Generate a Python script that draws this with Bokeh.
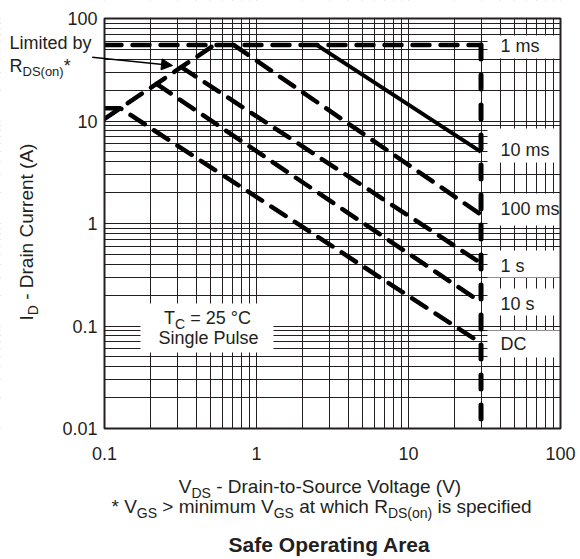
import math
from bokeh.plotting import figure
from bokeh.models import FixedTicker, Label, Arrow, NormalHead
from bokeh.core.properties import value
from bokeh.embed import file_html
from bokeh.resources import INLINE

# ---------------- data ----------------
x_ticks = [0.1, 1.0, 10.0, 100.0]
x_tick_labels = ["0.1", "1", "10", "100"]
y_ticks = [0.01, 0.1, 1.0, 10.0, 100.0]
y_tick_labels = ["0.01", "0.1", "1", "10", "100"]

# R_DS(on) limit line
rds_vds = [0.1, 0.525]
rds_id = [10.5, 55.0]
# package current limit and max VDS
id_limit = 55.0
vds_limit = 30.0

# pulse curves (VDS, ID)
vds_10ms = [2.5, 30.0]
id_10ms = [55.0, 5.0]
vds_100ms = [0.71, 30.0]
id_100ms = [55.0, 1.22]
vds_1s = [0.32, 30.0]
id_1s = [33.6, 0.41]
vds_10s = [0.22, 30.0]
id_10s = [23.0, 0.17]
vds_dc = [0.1, 0.127, 30.0]
id_dc = [13.3, 13.3, 0.068]

curve_labels = ["1 ms", "10 ms", "100 ms", "1 s", "10 s", "DC"]

# ---------------- layout helpers ----------------
FONT = "Liberation Sans"
INK = "#231f20"
CW, CH = 580, 559                      # canvas size
FL, FR, FT, FB = 104, 560, 18, 428     # plot-area edges in canvas pixels
XMIN, XMAX = x_ticks[0], x_ticks[-1]
YMIN, YMAX = y_ticks[0], y_ticks[-1]
MID = 0.35                             # baseline -> text middle, in em


def dx(px):
    return 10 ** (math.log10(XMIN) + math.log10(XMAX / XMIN) * (px - FL) / (FR - FL))


def dy(py):
    return 10 ** (math.log10(YMAX) - math.log10(YMAX / YMIN) * (py - FT) / (FB - FT))


W = {' ': 278, '-': 333, '(': 333, ')': 333, '*': 389, '>': 584, '=': 584, '°': 400,
     '0': 556, '1': 556, '2': 556, '5': 556,
     'A': 667, 'C': 722, 'D': 722, 'G': 778, 'I': 278, 'L': 556, 'P': 667, 'R': 722,
     'S': 667, 'T': 611, 'V': 667,
     'a': 556, 'b': 556, 'c': 500, 'd': 556, 'e': 556, 'f': 278, 'g': 556, 'h': 556,
     'i': 222, 'l': 222, 'm': 833, 'n': 556, 'o': 556, 'p': 556, 'r': 333, 's': 500,
     't': 278, 'u': 556, 'w': 722, 'y': 500}


def tw(s, size):
    return sum(W.get(c, 556) for c in s) * size / 1000.0


def rich(p, pieces, x_px, base_px, align="center", vertical=False, bold=False):
    """pieces: (text, font px, baseline shift px downward); base_px = baseline."""
    total = sum(tw(t, s) for t, s, _ in pieces)
    off = -total / 2 if align == "center" else 0.0
    for t, s, sh in pieces:
        lead = len(t) - len(t.lstrip(" "))
        txt = t.strip(" ")
        o = off + tw(t[:lead], s)
        down = sh - MID * s            # where the text middle sits, relative to baseline
        if vertical:
            lab = Label(x=dx(base_px), y=dy(x_px), x_offset=down, y_offset=o, text=txt,
                        angle=math.pi / 2, angle_units="rad")
        else:
            lab = Label(x=dx(x_px), y=dy(base_px), x_offset=o, y_offset=-down, text=txt)
        lab.text_font = FONT
        lab.text_font_size = f"{s}px"
        lab.text_color = INK
        lab.text_align = "left"
        lab.text_baseline = "middle"
        if bold:
            lab.text_font_style = "bold"
        p.add_layout(lab)
        off += tw(t, s)


# ---------------- figure (frame = whole canvas) ----------------
p = figure(width=CW, height=CH, x_axis_type="log", y_axis_type="log",
           x_range=(dx(0), dx(CW)), y_range=(dy(CH), dy(0)),
           output_backend="svg", toolbar_location=None, min_border=0)
p.background_fill_color = "white"
p.border_fill_color = "white"
p.outline_line_color = None

x_minor = [m * 10 ** e for e in range(-1, 2) for m in range(2, 10)]
y_minor = [m * 10 ** e for e in range(-2, 2) for m in range(2, 10)]
xt = FixedTicker(ticks=x_ticks, minor_ticks=x_minor)
yt = FixedTicker(ticks=y_ticks, minor_ticks=y_minor)

xax = p.xaxis[0]
yax = p.yaxis[0]
xax.fixed_location = YMIN
yax.fixed_location = XMIN
xax.ticker = xt
yax.ticker = yt
p.xgrid.ticker = xt
p.ygrid.ticker = yt
xax.major_label_overrides = {float(t): l for t, l in zip(x_ticks, x_tick_labels)}
yax.major_label_overrides = {float(t): l for t, l in zip(y_ticks, y_tick_labels)}
for ax in (xax, yax):
    ax.axis_line_color = None
    ax.major_tick_line_color = None
    ax.minor_tick_line_color = None
    ax.major_tick_in = 0
    ax.major_tick_out = 0
    ax.minor_tick_in = 0
    ax.minor_tick_out = 0
    ax.major_label_text_font = FONT
    ax.major_label_text_font_size = "18px"
    ax.major_label_text_color = INK
xax.major_label_standoff = 18
yax.major_label_standoff = 7

p.grid.grid_line_color = INK
p.grid.grid_line_alpha = 1.0
p.grid.grid_line_width = 1
p.grid.minor_grid_line_color = INK
p.grid.minor_grid_line_alpha = 1.0
p.grid.minor_grid_line_width = 1

# white label backgrounds (cover the grid)
box_rows = [(35, 58), (128, 162), (193, 225), (250, 277), (288, 315), (330, 357)]
p.quad(left=[dx(487)] * len(box_rows), right=[dx(FR)] * len(box_rows),
       top=[dy(a) for a, b in box_rows], bottom=[dy(b) for a, b in box_rows],
       fill_color="white", line_color=None)
p.quad(left=[dx(140)], right=[dx(273)], top=[dy(303)], bottom=[dy(352)],
       fill_color="white", line_color=None)

# curves
dash = dict(line_color="black", line_width=4.5, line_dash="17 11", line_cap="round")
p.line([rds_vds[0], vds_limit], [id_limit, id_limit], **dash)
p.line(rds_vds, rds_id, **dash)
p.line([vds_limit, vds_limit], [id_limit, YMIN], line_color="black", line_width=5,
       line_dash="14 16", line_cap="round")
p.line(vds_10ms, id_10ms, line_color="black", line_width=4)
p.line(vds_100ms, id_100ms, **dash)
p.line(vds_1s, id_1s, **dash)
p.line(vds_10s, id_10s, **dash)
p.line(vds_dc, id_dc, **dash)

# curve labels on the right (text middles in canvas px)
label_middles = [45, 149.2, 208.3, 265, 303.3, 343.3]
p.text(x=[dx(500)] * len(curve_labels), y=[dy(m) for m in label_middles], text=curve_labels,
       text_font=value(FONT), text_font_size="18px", text_color=INK,
       text_baseline="middle", text_align="left")

# white margins outside the plot area (hide grid there)
p.quad(left=[dx(-5), XMAX, dx(-5), dx(-5)], right=[XMIN, dx(CW + 5), dx(CW + 5), dx(CW + 5)],
       bottom=[dy(CH + 5), dy(CH + 5), YMAX, dy(CH + 5)], top=[dy(-5), dy(-5), dy(-5), YMIN],
       fill_color="white", line_color=None)
# plot border
p.quad(left=[XMIN], right=[XMAX], bottom=[YMIN], top=[YMAX], fill_color=None,
       line_color=INK, line_width=2)

# conditions box text
rich(p, [("T", 18, 0), ("C", 14, 4), (" = 25 °C", 18, 0)], 207, 324)
rich(p, [("Single Pulse", 18, 0)], 208, 343.3)

# Limited by R_DS(on)*
rich(p, [("Limited by", 18, 0)], 9, 48.7, align="left")
rich(p, [("R", 18, 0), ("DS(on)", 13, 4), ("*", 18, 0)], 9, 71.7, align="left")
p.add_layout(Arrow(end=NormalHead(size=11, fill_color="black", line_color="black"),
                   x_start=dx(91.7), y_start=dy(56.7), x_end=dx(172), y_end=dy(65),
                   line_color="black", line_width=1.5))

# axis titles
rich(p, [("V", 19, 0), ("DS", 14, 4), (" - Drain-to-Source Voltage (V)", 19, 0)], 320, 493)
rich(p, [("* V", 19, 0), ("GS", 14, 4), (" > minimum V", 19, 0), ("GS", 14, 4),
         (" at which R", 19, 0), ("DS(on)", 14, 4), (" is specified", 19, 0)], 321, 513)
rich(p, [("I", 19, 0), ("D", 14, 4), (" - Drain Current (A)", 19, 0)], 320, 33,
     align="left", vertical=True)

rich(p, [("Safe Operating Area", 21, 0)], 321.5, 551, bold=True)

open("out.html", "w").write(file_html(p, INLINE))
